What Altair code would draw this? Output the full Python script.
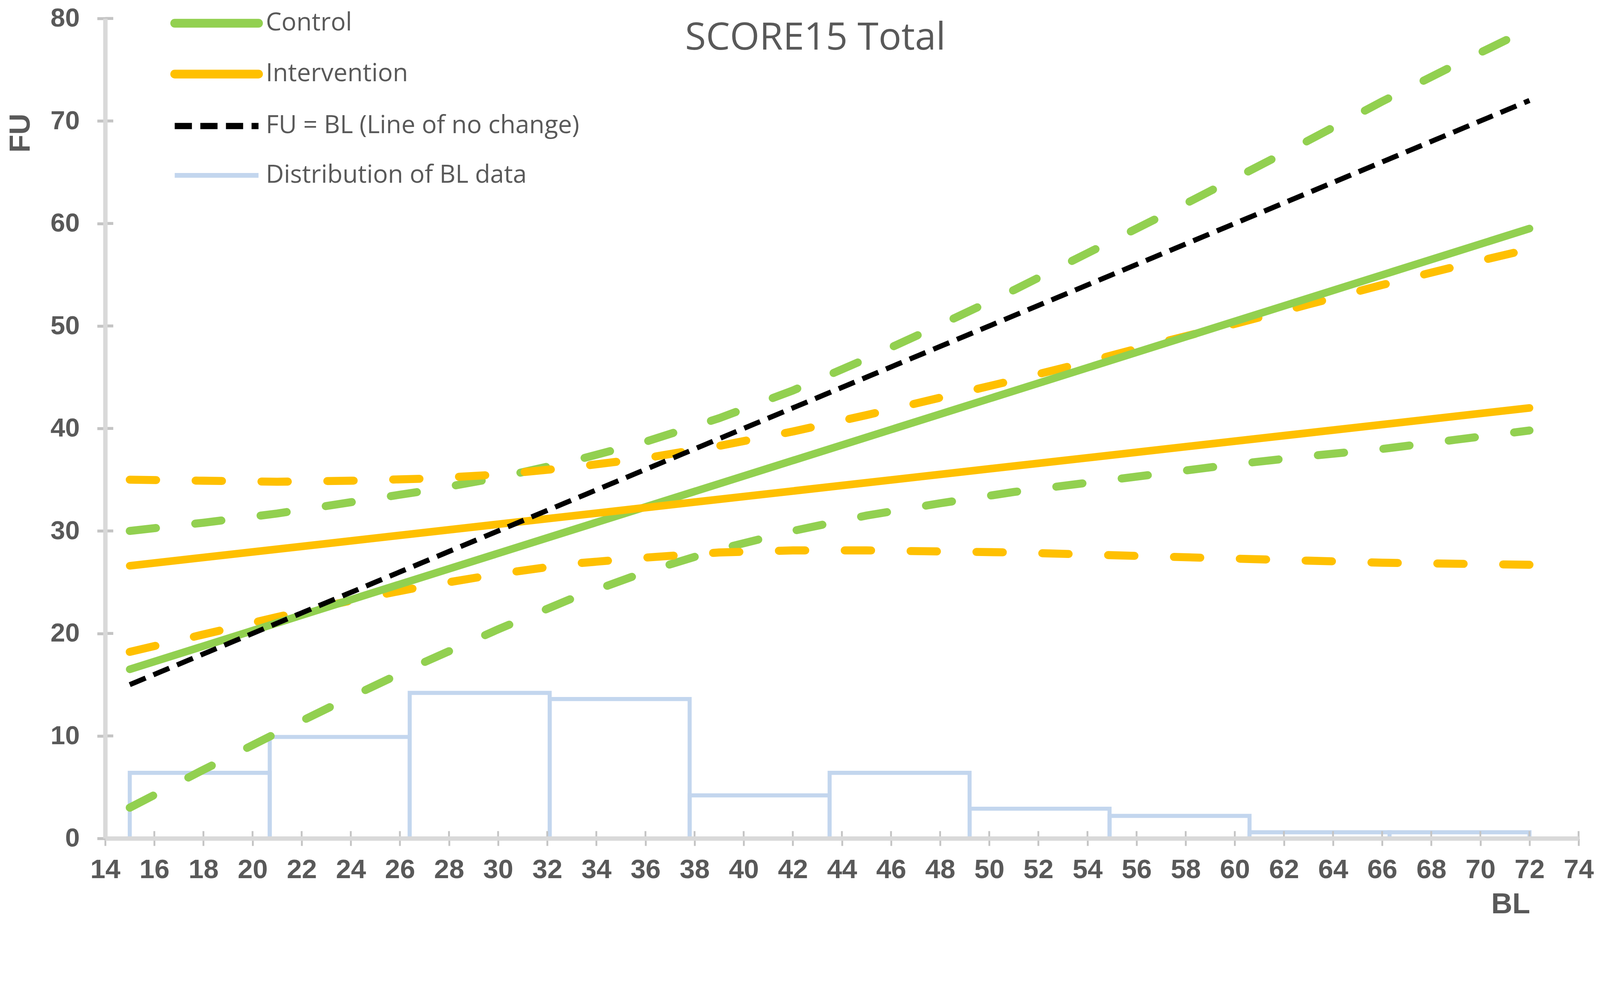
import altair as alt
import pandas as pd

# ---------------- data ----------------
BL_GRID = [15, 18, 21, 24, 27, 30, 33, 36, 39, 42, 45, 48, 51, 54, 57, 60, 63, 66, 69, 72]
CONTROL_UPPER = [30.0, 30.8, 31.7, 32.8, 33.9, 35.2, 36.8, 38.7, 41.0, 43.7, 46.8, 50.1,
                 53.5, 57.1, 60.7, 64.4, 68.1, 71.9, 75.5, 79.0]
CONTROL_LOWER = [3.0, 6.7, 10.3, 13.8, 17.2, 20.4, 23.4, 26.0, 28.2, 30.0, 31.5, 32.7,
                 33.8, 34.7, 35.6, 36.5, 37.3, 38.0, 38.9, 39.8]
INTERV_UPPER = [35.0, 34.9, 34.8, 34.9, 35.1, 35.5, 36.2, 37.1, 38.3, 39.7, 41.3, 43.0,
                44.7, 46.5, 48.4, 50.2, 52.1, 54.0, 55.8, 57.5]
INTERV_LOWER = [18.2, 19.9, 21.6, 23.2, 24.6, 25.8, 26.8, 27.4, 27.9, 28.1, 28.1, 28.0,
                27.9, 27.7, 27.5, 27.3, 27.1, 26.9, 26.8, 26.7]

FIT_BL = [15, 72]
CONTROL_FIT = [16.5, 59.5]
INTERV_FIT = [26.6, 42.0]
NO_CHANGE_FU = [15, 72]

BIN_START = [15.0, 20.7, 26.4, 32.1, 37.8, 43.5, 49.2, 54.9, 60.6, 66.3]
BIN_END = [20.7, 26.4, 32.1, 37.8, 43.5, 49.2, 54.9, 60.6, 66.3, 72.0]
BIN_HEIGHT = [6.4, 9.9, 14.2, 13.6, 4.2, 6.4, 2.9, 2.2, 0.6, 0.6]

X_TICKS = list(range(14, 76, 2))
Y_TICKS = list(range(0, 90, 10))

LEGEND_LABELS = ["Control", "Intervention", "FU = BL (Line of no change)", "Distribution of BL data"]
TITLE = "SCORE15 Total"

# ---------------- style ----------------
GREEN = "#92d050"
ORANGE = "#ffc000"
BLACK = "#000000"
BLUE = "#c3d6ee"
AXIS_GREY = "#d9d9d9"
TICK_GREY = "#c4c4c4"
TEXT = "#595959"

W, H = 4027, 2242

x_scale = alt.Scale(domain=[14, 74], nice=False, zero=False)
y_scale = alt.Scale(domain=[0, 80], nice=False, zero=True)

X_AX = alt.Axis(values=X_TICKS, grid=False, tickSize=20, tickWidth=5, tickColor=TICK_GREY,
                domainColor=AXIS_GREY, domainWidth=12, labelFont="Liberation Sans",
                labelFontWeight="bold", labelFontSize=74, labelColor=TEXT, labelPadding=30,
                labelOverlap=False, labelFlush=False, title="BL", titleFont="Liberation Sans",
                titleFontWeight="bold", titleFontSize=80, titleColor=TEXT, titleX=3841,
                titleY=180, titleBaseline="middle", titleAlign="center", zindex=1)
Y_AX = alt.Axis(values=Y_TICKS, grid=False, tickSize=22, tickWidth=8, tickColor=TICK_GREY,
                domainColor=AXIS_GREY, domainWidth=12, labelFont="Liberation Sans",
                labelFontWeight="bold", labelFontSize=72, labelColor=TEXT, labelPadding=48,
                labelOverlap=False, labelFlush=False, title="FU", titleFont="Liberation Sans",
                titleFontWeight="bold", titleFontSize=80, titleColor=TEXT, titleX=-231,
                titleY=313, titleAngle=-90, titleBaseline="middle", titleAlign="center",
                zindex=1)


def X(field):
    return alt.X(field, type="quantitative", scale=x_scale, axis=X_AX)


def Y(field):
    return alt.Y(field, type="quantitative", scale=y_scale, axis=Y_AX)


hist_df = pd.DataFrame({"start": BIN_START, "end": BIN_END, "height": BIN_HEIGHT})
hist = alt.Chart(hist_df).mark_rect(fill="white", fillOpacity=0, stroke=BLUE, strokeWidth=11).encode(
    x=X("start"), x2="end", y=Y("height"), y2=alt.datum(0)
)

# inner halves of the crossing tick marks
ytick_df = pd.DataFrame({"v": Y_TICKS})
xtick_df = pd.DataFrame({"v": X_TICKS})
yticks_in = alt.Chart(ytick_df).mark_rule(color=TICK_GREY, strokeWidth=8).encode(
    y=Y("v"), x=alt.value(0), x2=alt.value(22)
)
xticks_in = alt.Chart(xtick_df).mark_rule(color=TICK_GREY, strokeWidth=5).encode(
    x=X("v"), y=alt.value(H), y2=alt.value(H - 20)
)


def band_line(values, color):
    df = pd.DataFrame({"bl": BL_GRID, "fu": values})
    return alt.Chart(df).mark_line(color=color, strokeWidth=22, strokeDash=[72, 108],
                                   strokeCap="round").encode(x=X("bl"), y=Y("fu"))


def fit_line(values, color):
    df = pd.DataFrame({"bl": FIT_BL, "fu": values})
    return alt.Chart(df).mark_line(color=color, strokeWidth=21, strokeCap="round").encode(
        x=X("bl"), y=Y("fu"))


c_up = band_line(CONTROL_UPPER, GREEN)
c_lo = band_line(CONTROL_LOWER, GREEN)
i_up = band_line(INTERV_UPPER, ORANGE)
i_lo = band_line(INTERV_LOWER, ORANGE)
c_fit = fit_line(CONTROL_FIT, GREEN)
i_fit = fit_line(INTERV_FIT, ORANGE)

nc_df = pd.DataFrame({"bl": FIT_BL, "fu": NO_CHANGE_FU})
no_change = alt.Chart(nc_df).mark_line(color=BLACK, strokeWidth=14, strokeDash=[47, 23]).encode(
    x=X("bl"), y=Y("fu"))

# ---------------- legend (drawn inside the plot, top-left) ----------------
leg_y = [13, 152, 294, 429]
leg_styles = [
    dict(color=GREEN, strokeWidth=24, strokeCap="round"),
    dict(color=ORANGE, strokeWidth=24, strokeCap="round"),
    dict(color=BLACK, strokeWidth=17, strokeDash=[47, 23]),
    dict(color=BLUE, strokeWidth=13),
]
one = pd.DataFrame({"k": [0]})
legend_layers = []
for lbl, ly, st in zip(LEGEND_LABELS, leg_y, leg_styles):
    legend_layers.append(
        alt.Chart(one).mark_rule(**st).encode(x=alt.value(190), x2=alt.value(419), y=alt.value(ly))
    )
    legend_layers.append(
        alt.Chart(pd.DataFrame({"t": [lbl]})).mark_text(
            align="left", baseline="middle", font="Open Sans", fontSize=68, color=TEXT
        ).encode(x=alt.value(439), y=alt.value(ly), text="t:N")
    )

title = alt.Chart(pd.DataFrame({"t": [TITLE]})).mark_text(
    align="center", baseline="alphabetic", font="Open Sans", fontSize=104, color=TEXT
).encode(x=alt.value(1941), y=alt.value(85), text="t:N")

chart = alt.layer(
    hist, yticks_in, xticks_in, c_up, c_lo, i_up, i_lo, c_fit, i_fit, no_change,
    *legend_layers, title
).properties(
    width=W, height=H,
    autosize=alt.AutoSizeParams(type="none"),
    padding={"left": 279, "top": -38, "right": 50, "bottom": 160},
).configure_view(stroke=None)

chart.save("out.html", embed_options={"renderer": "svg", "actions": False})
